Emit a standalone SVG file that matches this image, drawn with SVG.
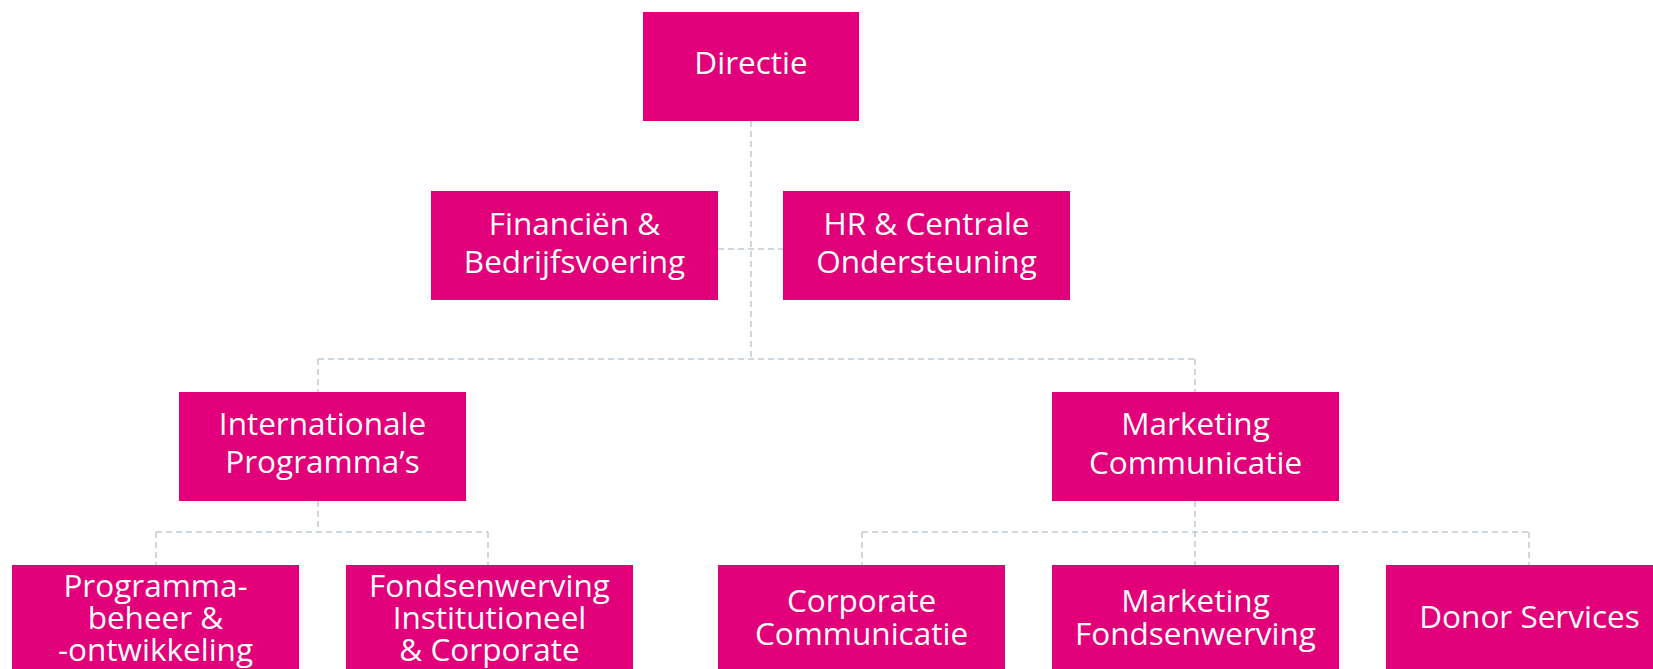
<svg xmlns="http://www.w3.org/2000/svg" width="1653" height="669" viewBox="0 0 1653 669">
<style>
.box{fill:#E2007A}
.t{fill:#fff;font-family:"Open Sans","Liberation Sans",sans-serif;font-size:31.5px;text-anchor:middle}
.c{fill:none;stroke:#bfcbd4;stroke-width:1.5;stroke-dasharray:6 4}
</style>
<rect width="1653" height="669" fill="#fff"/>
<g id="connectors">
<path class="c" d="M751 121V359"/>
<path class="c" d="M718 249H783"/>
<path class="c" d="M318 359H1195M318 359V392M1195 359V392"/>
<path class="c" d="M318 501V532M156 532H488M156 532V565M488 532V565"/>
<path class="c" d="M1195 501V565M862 532H1529M862 532V565M1529 532V565"/>
</g>
<g id="directie"><rect class="box" x="643" y="12" width="216" height="109"/><text class="t" x="751" y="74">Directie</text></g>
<g id="financien"><rect class="box" x="431" y="191" width="287" height="109"/><text class="t" x="574.5" y="235">Financiën &amp;</text><text class="t" x="574.5" y="273">Bedrijfsvoering</text></g>
<g id="hr"><rect class="box" x="783" y="191" width="287" height="109"/><text class="t" x="926.5" y="235">HR &amp; Centrale</text><text class="t" x="926.5" y="273">Ondersteuning</text></g>
<g id="internationale"><rect class="box" x="179" y="392" width="287" height="109"/><text class="t" x="322.5" y="435">Internationale</text><text class="t" x="322.5" y="473">Programma’s</text></g>
<g id="marketing-communicatie"><rect class="box" x="1052" y="392" width="287" height="109"/><text class="t" x="1195.5" y="435">Marketing</text><text class="t" x="1195.5" y="474">Communicatie</text></g>
<g id="programmabeheer"><rect class="box" x="12" y="565" width="287" height="109"/><text class="t" x="155.5" y="597">Programma-</text><text class="t" x="155.5" y="629">beheer &amp;</text><text class="t" x="155.5" y="661">-ontwikkeling</text></g>
<g id="fondsenwerving-institutioneel"><rect class="box" x="346" y="565" width="287" height="109"/><text class="t" x="489.5" y="597">Fondsenwerving</text><text class="t" x="489.5" y="629">Institutioneel</text><text class="t" x="489.5" y="661">&amp; Corporate</text></g>
<g id="corporate-communicatie"><rect class="box" x="718" y="565" width="287" height="109"/><text class="t" x="861.5" y="612">Corporate</text><text class="t" x="861.5" y="645">Communicatie</text></g>
<g id="marketing-fondsenwerving"><rect class="box" x="1052" y="565" width="287" height="109"/><text class="t" x="1195.5" y="612">Marketing</text><text class="t" x="1195.5" y="645">Fondsenwerving</text></g>
<g id="donor-services"><rect class="box" x="1386" y="565" width="287" height="109"/><text class="t" x="1529.5" y="628">Donor Services</text></g>
</svg>
